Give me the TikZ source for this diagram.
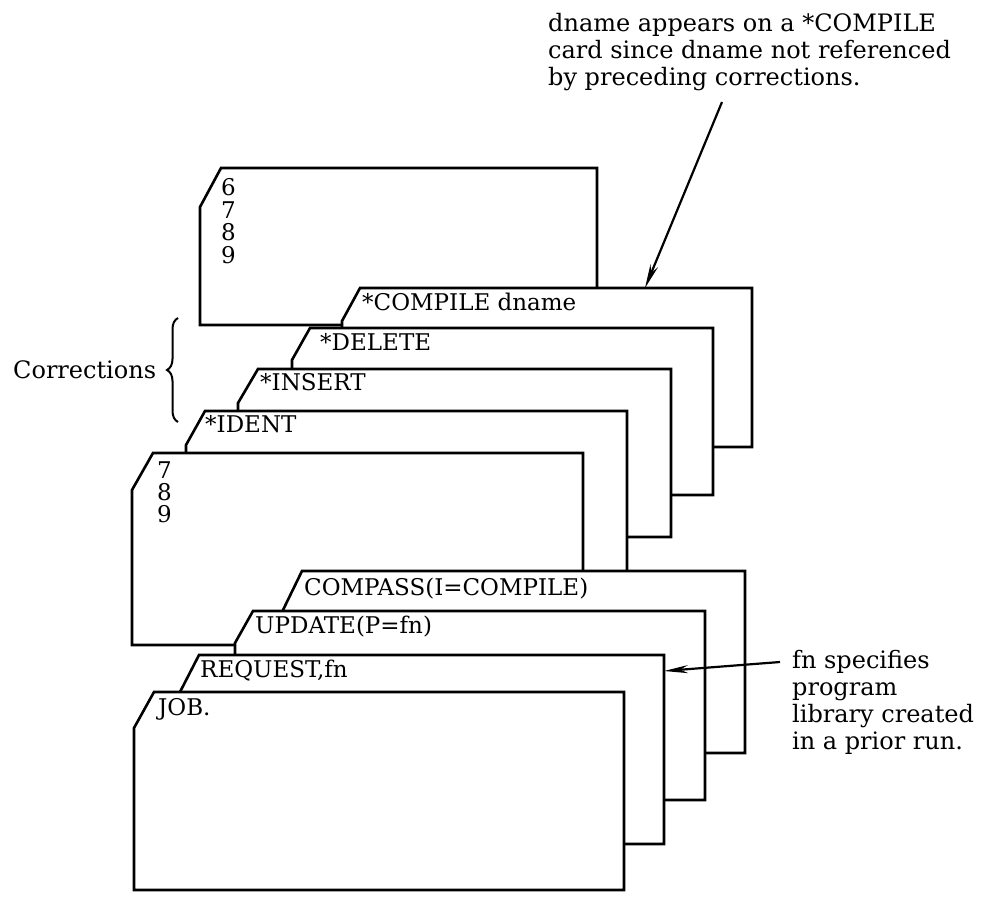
\documentclass[tikz,border=0pt]{standalone}
\usepackage{fontspec}
\setmainfont{DejaVu Serif}
\usetikzlibrary{arrows.meta,decorations.pathreplacing}
\tikzset{
  cardline/.style={draw=black, fill=white, line width=2.6pt, line join=miter},
  cardtext/.style={anchor=base west, inner sep=0pt, font=\fontsize{23}{27}\selectfont},
  notetext/.style={anchor=base west, inner sep=0pt, font=\fontsize{24}{27}\selectfont},
  pointer/.style={line width=2.2pt, -{Stealth[length=24pt,width=8pt]}},
  groupbrace/.style={decorate, decoration={brace, amplitude=11pt}, line width=2pt},
}
% one punched card: corner-cut x, top, right, bottom, left, y where the cut ends
\newcommand\deckcard[6]{%
  \path[cardline] (#1,#2) -- (#3,#2) -- (#3,#4) -- (#5,#4) -- (#5,#6) -- cycle;}
\begin{document}
\begin{tikzpicture}[x=1pt,y=-1pt]
\useasboundingbox (0,0) rectangle (997,898);

% deck, back to front
\deckcard{221}{168}{597}{325}{200}{207}
\node[cardtext] (c6) at (221,195) {6};
\node[cardtext] (c7) at (221,218) {7};
\node[cardtext] (c8) at (221,240) {8};
\node[cardtext] (c9) at (221,263) {9};

\deckcard{360}{288}{752}{447}{342}{321}
\node[cardtext] (compile) at (362,310) {*COMPILE dname};

\deckcard{310}{328}{713}{495}{292}{360}
\node[cardtext] (delete) at (320,350) {*DELETE};

\deckcard{258}{369}{671}{537}{238}{403}
\node[cardtext] (insert) at (260,390) {*INSERT};

\deckcard{205}{411}{627}{600}{186}{445}
\node[cardtext] (ident) at (205,432) {*IDENT};

\deckcard{153}{453}{583}{645}{132}{490}
\node[cardtext] (d7) at (157,478) {7};
\node[cardtext] (d8) at (157,500) {8};
\node[cardtext] (d9) at (157,522) {9};

\deckcard{302}{571}{745}{753}{283}{610}
\node[cardtext] (compass) at (304,595) {COMPASS(I=COMPILE)};

\deckcard{253}{611}{705}{800}{235}{643}
\node[cardtext] (update) at (255,633) {UPDATE(P=fn)};

\deckcard{199}{655}{664}{844}{180}{692}
\node[cardtext] (request) at (200,677) {REQUEST,fn};

\deckcard{154}{692}{624}{890}{134}{728}
\node[cardtext] (job) at (158,715) {JOB.};

% brace and label for the correction cards
\coordinate (bracelow) at (178,422);
\coordinate (bracehigh) at (178,318);
\draw[groupbrace] (bracelow) -- (bracehigh);
\node[notetext] (corr) at (13,378) {Corrections};

% note on the *COMPILE card
\node[notetext] (na) at (548,31) {dname appears on a *COMPILE};
\node[notetext] (nb) at (548,58) {card since dname not referenced};
\node[notetext] (nc) at (548,85) {by preceding corrections.};
\coordinate (natail) at (722,102);
\coordinate (nahead) at (645,288);
\draw[pointer] (natail) -- (nahead);

% note on the REQUEST card
\node[notetext] (fa) at (792,668) {fn specifies};
\node[notetext] (fb) at (792,695) {program};
\node[notetext] (fc) at (792,722) {library created};
\node[notetext] (fd) at (792,749) {in a prior run.};
\coordinate (fntail) at (780,662);
\coordinate (fnhead) at (664,671);
\draw[pointer] (fntail) -- (fnhead);
\end{tikzpicture}
\end{document}
